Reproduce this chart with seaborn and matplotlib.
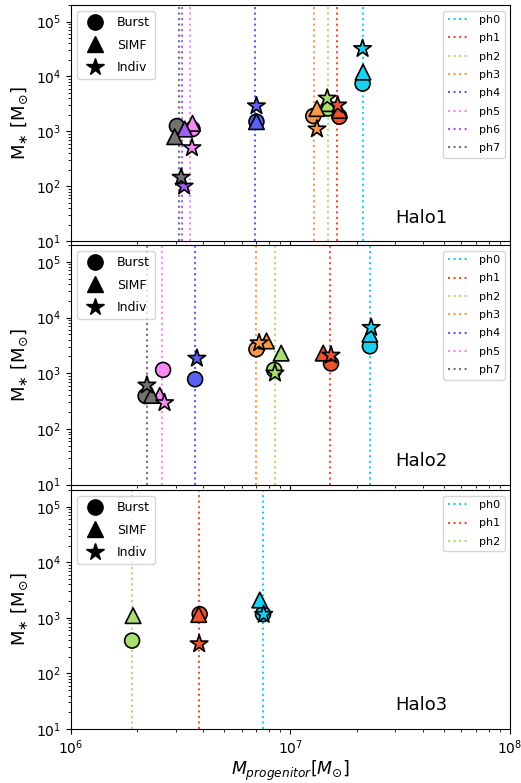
import numpy as np
import pandas as pd
import matplotlib
matplotlib.use("Agg")
import matplotlib.pyplot as plt
from matplotlib.lines import Line2D
import seaborn as sns

# ---------------- data ----------------
ph_colors = {
    "ph0": "#1AD1F0", "ph1": "#EE5330", "ph2": "#A8E070", "ph3": "#F8994E",
    "ph4": "#5A62F2", "ph5": "#F58AF5", "ph6": "#A45CF5", "ph7": "#737373",
}

# Halo1
h1_ph = ["ph0", "ph1", "ph2", "ph3", "ph4", "ph5", "ph6", "ph7"]
h1_line = [2.13e7, 1.63e7, 1.48e7, 1.28e7, 6.9e6, 3.49e6, 3.22e6, 3.10e6]
h1_burst_ph = ["ph0", "ph1", "ph2", "ph3", "ph4", "ph5", "ph7"]
h1_burst_x = [2.13e7, 1.67e7, 1.48e7, 1.27e7, 7.0e6, 3.58e6, 3.04e6]
h1_burst_y = [7.4e3, 1.85e3, 2.6e3, 1.9e3, 1.5e3, 1.1e3, 1.25e3]
h1_simf_ph = ["ph0", "ph1", "ph2", "ph3", "ph4", "ph5", "ph6", "ph7"]
h1_simf_x = [2.14e7, 1.67e7, 1.48e7, 1.32e7, 7.0e6, 3.58e6, 3.30e6, 2.97e6]
h1_simf_y = [1.2e4, 2.4e3, 3.2e3, 2.6e3, 1.5e3, 1.4e3, 1.1e3, 8.0e2]
h1_indiv_ph = ["ph0", "ph1", "ph2", "ph3", "ph4", "ph5", "ph6", "ph7"]
h1_indiv_x = [2.13e7, 1.64e7, 1.47e7, 1.32e7, 7.0e6, 3.56e6, 3.28e6, 3.18e6]
h1_indiv_y = [3.2e4, 3.0e3, 4.0e3, 1.1e3, 2.9e3, 5.0e2, 1.0e2, 1.45e2]

# Halo2
h2_ph = ["ph0", "ph1", "ph2", "ph3", "ph4", "ph5", "ph7"]
h2_line = [2.3e7, 1.52e7, 8.5e6, 7.0e6, 3.67e6, 2.61e6, 2.22e6]
h2_burst_ph = ["ph0", "ph1", "ph2", "ph3", "ph4", "ph5", "ph7"]
h2_burst_x = [2.3e7, 1.53e7, 8.43e6, 7.0e6, 3.68e6, 2.63e6, 2.19e6]
h2_burst_y = [3.05e3, 1.5e3, 1.15e3, 2.7e3, 7.8e2, 1.15e3, 3.9e2]
h2_simf_ph = ["ph0", "ph1", "ph2", "ph3", "ph5", "ph7"]
h2_simf_x = [2.3e7, 1.41e7, 9.07e6, 7.78e6, 2.54e6, 2.33e6]
h2_simf_y = [5.0e3, 2.3e3, 2.3e3, 3.8e3, 4.0e2, 4.0e2]
h2_indiv_ph = ["ph0", "ph1", "ph2", "ph3", "ph4", "ph5", "ph7"]
h2_indiv_x = [2.33e7, 1.53e7, 8.5e6, 7.2e6, 3.75e6, 2.67e6, 2.22e6]
h2_indiv_y = [6.6e3, 2.1e3, 1.0e3, 3.5e3, 1.85e3, 2.95e2, 6.1e2]

# Halo3
h3_ph = ["ph0", "ph1", "ph2"]
h3_line = [7.48e6, 3.82e6, 1.89e6]
h3_burst_ph = ["ph0", "ph1", "ph2"]
h3_burst_x = [7.5e6, 3.86e6, 1.9e6]
h3_burst_y = [1.17e3, 1.17e3, 3.9e2]
h3_simf_ph = ["ph0", "ph1", "ph2"]
h3_simf_x = [7.25e6, 3.82e6, 1.92e6]
h3_simf_y = [2.1e3, 1.15e3, 1.1e3]
h3_indiv_ph = ["ph0", "ph1"]
h3_indiv_x = [7.55e6, 3.84e6]
h3_indiv_y = [1.15e3, 3.4e2]

halos = [
    ("Halo1", h1_ph, h1_line,
     [("Burst", h1_burst_ph, h1_burst_x, h1_burst_y),
      ("SIMF", h1_simf_ph, h1_simf_x, h1_simf_y),
      ("Indiv", h1_indiv_ph, h1_indiv_x, h1_indiv_y)]),
    ("Halo2", h2_ph, h2_line,
     [("Burst", h2_burst_ph, h2_burst_x, h2_burst_y),
      ("SIMF", h2_simf_ph, h2_simf_x, h2_simf_y),
      ("Indiv", h2_indiv_ph, h2_indiv_x, h2_indiv_y)]),
    ("Halo3", h3_ph, h3_line,
     [("Burst", h3_burst_ph, h3_burst_x, h3_burst_y),
      ("SIMF", h3_simf_ph, h3_simf_x, h3_simf_y),
      ("Indiv", h3_indiv_ph, h3_indiv_x, h3_indiv_y)]),
]

method_marker = {"Burst": "o", "SIMF": "^", "Indiv": "*"}
method_size = {"Burst": 115, "SIMF": 125, "Indiv": 175}

# ---------------- plot ----------------
plt.rcParams["font.family"] = ["DejaVu Sans"]
fig = plt.figure(figsize=(5.21, 7.83), dpi=100)
left, right = 0.136, 0.979
panels = [(0.692, 0.9936), (0.381, 0.687), (0.069, 0.374)]
axes = []
for i, (b, t) in enumerate(panels):
    ax = fig.add_axes([left, b, right - left, t - b], sharex=axes[0] if axes else None)
    axes.append(ax)

for ax, (name, phs, lines, methods) in zip(axes, halos):
    for ph, xl in zip(phs, lines):
        ax.axvline(xl, color=ph_colors[ph], ls=":", lw=1.5, label=ph, zorder=1)
    for mname, mph, mx, my in methods:
        df = pd.DataFrame({"mass": mx, "mstar": my, "ph": mph})
        sns.scatterplot(data=df, x="mass", y="mstar", hue="ph", palette=ph_colors,
                        marker=method_marker[mname], s=method_size[mname],
                        edgecolor="black", linewidth=1.2, legend=False, ax=ax, zorder=3)
    ax.set_xscale("log")
    ax.set_yscale("log")
    ax.set_xlim(1e6, 1e8)
    ax.set_ylim(10, 2e5)
    ax.set_xlabel("")
    ax.set_ylabel(r"M$_{\ast}$ [M$_{\odot}$]", fontsize=13)
    ax.tick_params(labelsize=10)
    ax.text(0.738, 0.1, name, transform=ax.transAxes, fontsize=13, ha="left", va="center")

    # legends
    ph_handles = [Line2D([0], [0], color=ph_colors[p], ls=":", lw=1.5) for p in phs]
    leg2 = ax.legend(ph_handles, phs, loc="upper right", fontsize=8, labelspacing=0.75)
    ax.add_artist(leg2)
    mk_handles = [Line2D([0], [0], marker=method_marker[m], color="black", ls="none",
                         markersize=13 if m == "Indiv" else 11) for m in ["Burst", "SIMF", "Indiv"]]
    ax.legend(mk_handles, ["Burst", "SIMF", "Indiv"], loc="upper left", fontsize=9,
              labelspacing=0.75)

for ax in axes[:-1]:
    ax.tick_params(labelbottom=False)
axes[-1].set_xlabel(r"$M_{progenitor} [M_{\odot}]$", fontsize=12.5, labelpad=1)

fig.savefig("out.png", dpi=100)
